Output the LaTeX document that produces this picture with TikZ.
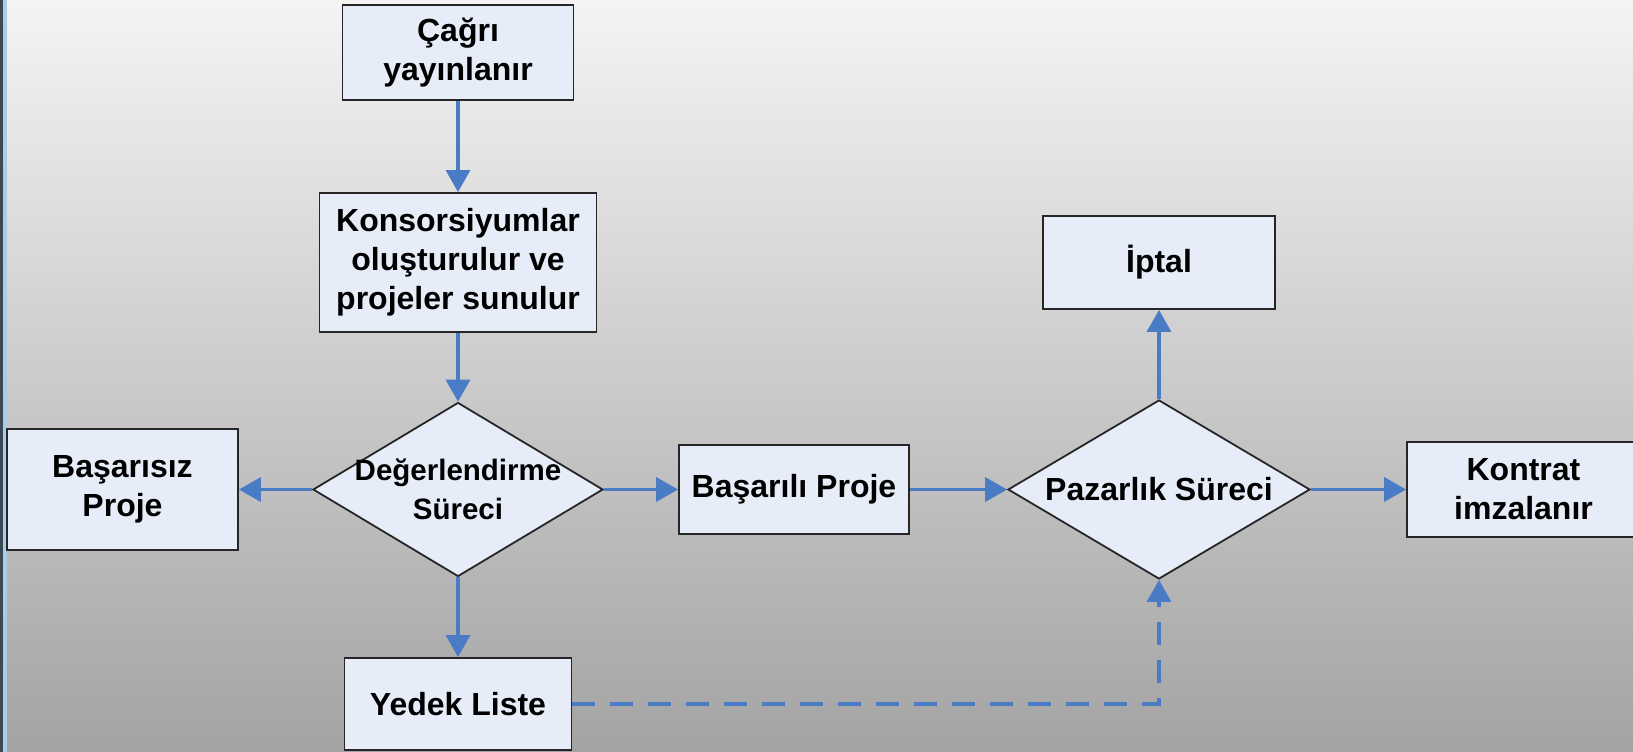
\documentclass[tikz,border=0pt]{standalone}
\usepackage{fontspec}
\setmainfont{Liberation Sans}
\usetikzlibrary{shapes.geometric,arrows.meta}
\definecolor{boxfill}{RGB}{231,237,248}
\definecolor{arrowblue}{RGB}{74,124,198}
\definecolor{bgtop}{RGB}{244,244,244}
\definecolor{bgbot}{RGB}{163,163,163}
\definecolor{edgedark}{RGB}{58,72,88}
\definecolor{edgelight}{RGB}{170,204,228}
\begin{document}
\begin{tikzpicture}[x=1pt,y=-1pt,
  txt/.style={font=\bfseries\fontsize{32}{39}\selectfont},
  box/.style={draw=black!85, line width=1.8pt, fill=boxfill, align=center, inner sep=0pt, txt},
  dia/.style={diamond, draw=black!85, line width=1.8pt, fill=boxfill, inner sep=0pt},
  dialabel/.style={align=center, inner sep=0pt, txt},
  conn/.style={draw=arrowblue, line width=3.5pt, -{Triangle[length=22pt,width=24pt]}},
  dashconn/.style={conn, dash pattern=on 23pt off 15pt}
]
\useasboundingbox (0,0) rectangle (1633,752);
\clip (0,0) rectangle (1633,752);
\shade[top color=bgtop, bottom color=bgbot] (0,0) rectangle (1633,752);
\fill[edgedark] (0,0) rectangle (2.5,752);
\fill[edgelight] (2.5,0) rectangle (6.5,752);

\node[box, minimum width=231pt, minimum height=95pt] (cagri) at (458,52.5) {Çağrı\\yayınlanır};
\node[box, minimum width=277pt, minimum height=139pt] (kons) at (458,262.5) {Konsorsiyumlar\\oluşturulur ve\\projeler sunulur};
\node[dia, minimum width=290pt, minimum height=174pt] (eval) at (458,489.5) {};
\node[dialabel, font=\bfseries\fontsize{29.5}{39}\selectfont] (evaltxt) at (eval.center) {Değerlendirme\\Süreci};
\node[box, minimum width=231pt, minimum height=121pt] (fail) at (122.5,489.5) {Başarısız\\Proje};
\node[box, minimum width=230pt, minimum height=89pt] (succ) at (794,489.5) {Başarılı Proje};
\node[dia, minimum width=302pt, minimum height=179pt] (pazar) at (1159,489.5) {};
\node[dialabel] (pazartxt) at (pazar.center) {Pazarlık Süreci};
\node[box, minimum width=232pt, minimum height=93pt] (iptal) at (1159,262.5) {İptal};
\node[box, minimum width=233pt, minimum height=95pt] (kontrat) at (1523.5,489.5) {Kontrat\\imzalanır};
\node[box, minimum width=227pt, minimum height=92pt] (yedek) at (458,704) {Yedek Liste};

\draw[conn] (cagri.south) -- (kons.north);
\draw[conn] (kons.south) -- (eval.north);
\draw[conn] (eval.west) -- (fail.east);
\draw[conn] (eval.east) -- (succ.west);
\draw[conn] (eval.south) -- (yedek.north);
\draw[conn] (succ.east) -- (pazar.west);
\draw[conn] (pazar.north) -- (iptal.south);
\draw[conn] (pazar.east) -- (kontrat.west);
\draw[dashconn] (yedek.east) -| (pazar.south);
\end{tikzpicture}
\end{document}
